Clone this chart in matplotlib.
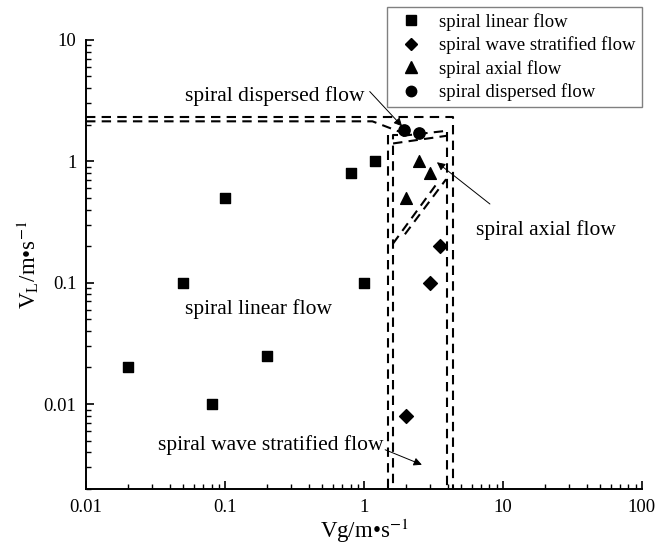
"""Spiral flow pattern map: Vg vs VL on log axes."""

import matplotlib
matplotlib.use("Agg")
import matplotlib.pyplot as plt
from matplotlib.lines import Line2D

plt.rcParams.update({
    "font.family": "Liberation Serif",
    "mathtext.fontset": "stix",
    "xtick.direction": "in",
    "ytick.direction": "in",
    "xtick.major.size": 6,
    "ytick.major.size": 6,
    "xtick.minor.size": 3.5,
    "ytick.minor.size": 3.5,
    "xtick.major.width": 1.2,
    "ytick.major.width": 1.2,
    "xtick.minor.width": 1.0,
    "ytick.minor.width": 1.0,
    "axes.linewidth": 1.4,
})

# ----- measured points (Vg, VL)
linear_vg = [0.02, 0.08, 0.05, 0.1, 0.2, 0.8, 1.0, 1.2]
linear_vl = [0.02, 0.01, 0.1, 0.5, 0.025, 0.8, 0.1, 1.0]

wave_vg = [2.0, 3.0, 3.5]
wave_vl = [0.008, 0.1, 0.2]

axial_vg = [2.0, 2.5, 3.0]
axial_vl = [0.5, 1.0, 0.8]

dispersed_vg = [1.95, 2.5]
dispersed_vl = [1.8, 1.7]

# ----- transition boundaries (Vg, VL) as dashed polylines
bound_outer_vg = [0.01, 4.4, 4.4]
bound_outer_vl = [2.3, 2.3, 0.002]
bound_inner_vg = [0.01, 1.15, 1.8]
bound_inner_vl = [2.13, 2.13, 1.75]
bound_right_vg = [3.95, 3.95]
bound_right_vl = [1.73, 0.002]
bound_left1_vg = [1.49, 1.49]
bound_left1_vl = [1.63, 0.002]
bound_left2_vg = [1.75, 1.62, 1.62]
bound_left2_vl = [1.63, 1.63, 0.002]
slant_up1_vg = [1.62, 3.95]
slant_up1_vl = [1.4, 1.62]
slant_up2_vg = [1.9, 3.95]
slant_up2_vl = [1.62, 1.78]
diag1_vg = [1.62, 3.3]
diag1_vl = [0.21, 0.64]
diag2_vg = [1.97, 3.9]
diag2_vl = [0.25, 0.71]

fig = plt.figure(figsize=(6.57, 5.45), dpi=100)
ax = fig.add_axes([0.131, 0.103, 0.846, 0.824])

dash = dict(color="black", lw=1.5, linestyle=(0, (4.5, 3)), zorder=1)
for xs, ys in [(bound_outer_vg, bound_outer_vl), (bound_inner_vg, bound_inner_vl),
               (bound_right_vg, bound_right_vl), (bound_left1_vg, bound_left1_vl),
               (bound_left2_vg, bound_left2_vl), (slant_up1_vg, slant_up1_vl),
               (slant_up2_vg, slant_up2_vl), (diag1_vg, diag1_vl),
               (diag2_vg, diag2_vl)]:
    ax.plot(xs, ys, **dash)

ms = 55
ax.scatter(linear_vg, linear_vl, marker="s", s=ms, color="black", zorder=3)
ax.scatter(wave_vg, wave_vl, marker="D", s=ms * 0.9, color="black", zorder=3)
ax.scatter(axial_vg, axial_vl, marker="^", s=ms * 1.3, color="black", zorder=3)
ax.scatter(dispersed_vg, dispersed_vl, marker="o", s=ms * 1.2, color="black", zorder=3)

ax.set_xscale("log")
ax.set_yscale("log")
ax.set_xlim(0.01, 100)
ax.set_ylim(0.002, 10)
ax.set_xticks([0.01, 0.1, 1, 10, 100])
ax.set_xticklabels(["0.01", "0.1", "1", "10", "100"])
ax.set_yticks([0.01, 0.1, 1, 10])
ax.set_yticklabels(["0.01", "0.1", "1", "10"])
ax.tick_params(labelsize=13.5, pad=7)
ax.spines["top"].set_visible(False)
ax.spines["right"].set_visible(False)

ax.set_xlabel(r"Vg/m•s$^{-1}$", fontsize=16.5, labelpad=1)
ax.set_ylabel(r"V$_\mathregular{L}$/m•s$^{-1}$", fontsize=16.5, labelpad=2)

arrow = dict(arrowstyle="-|>", color="black", lw=0.7, mutation_scale=12,
             shrinkA=0, shrinkB=0)
ax.text(0.229, 3.41, "spiral dispersed flow", fontsize=15.5,
        ha="center", va="center")
ax.annotate("", xy=(1.88, 1.94), xytext=(1.1, 3.75), arrowprops=arrow)
ax.text(20.4, 0.272, "spiral axial flow", fontsize=15.5,
        ha="center", va="center")
ax.annotate("", xy=(3.35, 0.98), xytext=(8.06, 0.444), arrowprops=arrow)
ax.text(0.173, 0.060, "spiral linear flow", fontsize=15.5,
        ha="center", va="center")
ax.text(0.214, 0.0046, "spiral wave stratified flow", fontsize=15.5,
        ha="center", va="center")
ax.annotate("", xy=(2.61, 0.00316), xytext=(1.42, 0.0042), arrowprops=arrow)

handles = [
    Line2D([], [], marker="s", ls="", color="black", markersize=7),
    Line2D([], [], marker="D", ls="", color="black", markersize=6.5),
    Line2D([], [], marker="^", ls="", color="black", markersize=8),
    Line2D([], [], marker="o", ls="", color="black", markersize=7.5),
]
labels = ["spiral linear flow", "spiral wave stratified flow",
          "spiral axial flow", "spiral dispersed flow"]
leg = fig.legend(handles, labels, loc="upper left",
                 bbox_to_anchor=(0.589, 0.987), fontsize=13.5,
                 fancybox=False, edgecolor="#808080", framealpha=1,
                 handletextpad=0.5, labelspacing=0.3, borderpad=0.3,
                 handlelength=2.0, borderaxespad=0)
leg.get_frame().set_linewidth(1.0)

fig.savefig("out.png", dpi=100)
